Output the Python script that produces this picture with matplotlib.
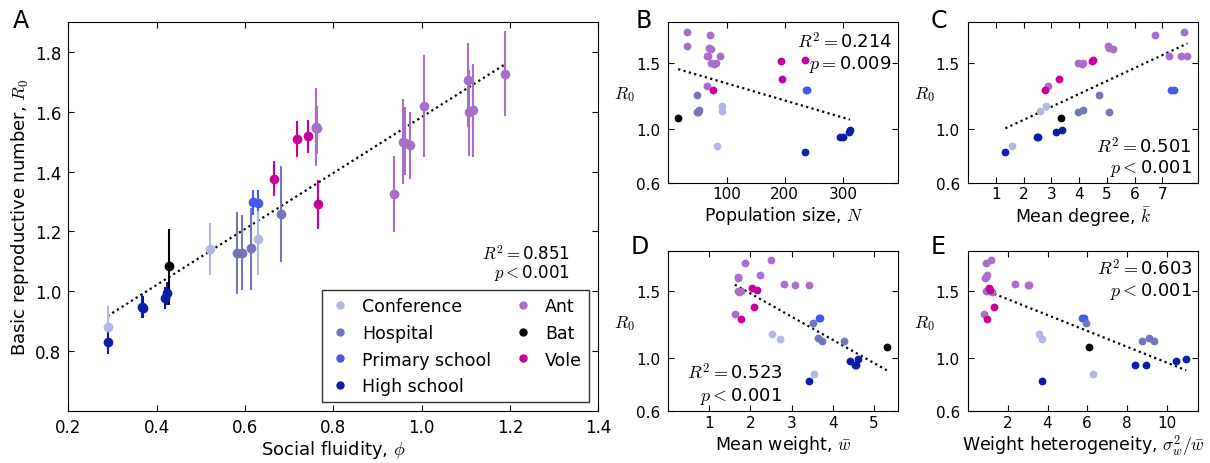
# Basic reproductive number vs network properties (panels A-E)

import matplotlib
matplotlib.use('Agg')
import matplotlib.pyplot as plt
import numpy as np
from matplotlib.lines import Line2D

plt.rcParams['font.family'] = 'DejaVu Sans'
plt.rcParams['mathtext.fontset'] = 'cm'
plt.rcParams['font.size'] = 12
plt.rcParams['xtick.direction'] = 'in'
plt.rcParams['ytick.direction'] = 'in'
plt.rcParams['xtick.top'] = True
plt.rcParams['ytick.right'] = True
plt.rcParams['xtick.major.size'] = 4
plt.rcParams['ytick.major.size'] = 4
plt.rcParams['xtick.major.pad'] = 5
plt.rcParams['ytick.major.pad'] = 5

group = ['Ant'] * 12 + ['Vole'] * 4 + ['Primary school'] * 2 + ['Hospital'] * 4 \
    + ['Conference'] * 3 + ['High school'] * 5 + ['Bat']

phi = [1.189, 1.106, 1.006, 1.116, 1.108, 0.760, 0.762, 0.763, 0.957, 0.963, 0.973, 0.937,
       0.743, 0.719, 0.666, 0.765,
       0.619, 0.630,
       0.682, 0.614, 0.583, 0.593,
       0.630, 0.521, 0.289,
       0.423, 0.419, 0.366, 0.370, 0.291,
       0.428]
r0 = [1.728, 1.707, 1.620, 1.605, 1.599, 1.548, 1.547, 1.545, 1.500, 1.497, 1.488, 1.324,
      1.518, 1.510, 1.377, 1.291,
      1.297, 1.295,
      1.260, 1.145, 1.128, 1.128,
      1.174, 1.140, 0.879,
      0.993, 0.978, 0.947, 0.945, 0.829,
      1.083]
r0_lo = [1.585, 1.550, 1.450, 1.448, 1.452, 1.420, 1.450, 1.460, 1.358, 1.388, 1.377, 1.198,
         1.461, 1.450, 1.319, 1.209,
         1.254, 1.250,
         1.098, 1.003, 0.992, 1.003,
         1.053, 1.053, 0.840,
         0.955, 0.940, 0.910, 0.910, 0.790,
         0.955]
r0_hi = [1.870, 1.832, 1.792, 1.759, 1.740, 1.680, 1.640, 1.620, 1.642, 1.615, 1.600, 1.452,
         1.572, 1.570, 1.435, 1.371,
         1.340, 1.340,
         1.420, 1.280, 1.265, 1.256,
         1.270, 1.229, 0.950,
         1.030, 1.015, 0.990, 0.985, 0.870,
         1.209]
pop_n = [33, 72, 32, 70, 74, 67, 89, 69, 74, 82, 78, 67,
         234, 194, 196, 77,
         237, 239,
         50, 52, 50, 51,
         93, 92, 84,
         312, 311, 295, 300, 234,
         17]
mean_k = [7.78, 6.73, 5.03, 5.09, 5.21, 7.25, 7.67, 7.91, 3.95, 4.14, 4.09, 2.87,
          4.50, 4.45, 3.26, 2.76,
          7.31, 7.43,
          4.72, 4.15, 3.95, 5.08,
          2.79, 2.59, 1.59,
          3.38, 3.18, 2.47, 2.50, 1.34,
          3.36]
mean_w = [2.50, 1.87, 2.23, 1.70, 1.69, 2.82, 3.08, 3.42, 1.70, 1.77, 1.72, 1.62,
          2.03, 2.17, 2.09, 1.78,
          3.66, 3.70,
          3.53, 3.65, 3.75, 4.28,
          2.53, 2.72, 3.55,
          4.63, 4.42, 4.54, 4.57, 3.43,
          5.33]
w_het = [1.15, 0.90, 0.94, 0.88, 0.82, 2.38, 3.00, 3.08, 1.02, 0.90, 1.19, 0.79,
         1.05, 1.12, 1.29, 0.95,
         5.74, 5.86,
         5.94, 9.12, 9.38, 8.75,
         3.55, 3.73, 6.31,
         10.99, 10.46, 8.43, 8.95, 3.73,
         6.09]

legend_order = ['Conference', 'Hospital', 'Primary school', 'High school', 'Ant', 'Bat', 'Vole']
colors = {'Conference': '#b3b7e6', 'Hospital': '#7377b9', 'Primary school': '#4858ef',
          'High school': '#0c1ca6', 'Ant': '#a76fca', 'Bat': 'black', 'Vole': '#c8009b'}

r0 = np.array(r0)
r0_lo = np.array(r0_lo)
r0_hi = np.array(r0_hi)


def trend(ax, x, y):
    x = np.asarray(x, dtype=float)
    p = np.polyfit(x, y, 1)
    xs = np.array([x.min(), x.max()])
    ax.plot(xs, np.polyval(p, xs), color='black', ls=(0, (1, 1.5)), lw=1.6, zorder=1)


fig = plt.figure(figsize=(12.1, 4.64), dpi=100)

# panel A
ax = fig.add_axes([0.0564, 0.1127, 0.438, 0.837])
for i in range(len(phi)):
    c = colors[group[i]]
    ax.errorbar(phi[i], r0[i], yerr=[[r0[i] - r0_lo[i]], [r0_hi[i] - r0[i]]],
                fmt='o', color=c, mec=c, ms=6, elinewidth=1.5, capsize=0, zorder=2)
trend(ax, phi, r0)
ax.set_xlim(0.2, 1.4)
ax.set_ylim(0.6, 1.9)
ax.set_xticks([0.2, 0.4, 0.6, 0.8, 1.0, 1.2, 1.4])
ax.set_yticks([0.8, 1.0, 1.2, 1.4, 1.6, 1.8])
ax.set_xlabel(r'Social fluidity, $\phi$', fontsize=13, labelpad=2)
ax.set_ylabel(r'Basic reproductive number, $R_0$', fontsize=13, labelpad=3)
ax.text(0.947, 0.38, r'$R^2=$0.851' + '\n' + r'$p<$0.001', transform=ax.transAxes,
        ha='right', va='center', multialignment='right', fontsize=12, linespacing=0.95)
handles = [Line2D([], [], ls='none', marker='o', ms=5, color=colors[g], mec=colors[g])
           for g in legend_order]
leg = ax.legend(handles, legend_order, loc='lower right', bbox_to_anchor=(0.983, 0.022),
                borderaxespad=0, ncol=2, numpoints=1, fancybox=False, fontsize=12.5,
                handlelength=1.2, handletextpad=0.7, columnspacing=1.2, labelspacing=0.5)
leg.get_frame().set_edgecolor('black')
leg.get_frame().set_linewidth(1.0)

# small panels
panels = [
    ([0.5523, 0.6034, 0.1901, 0.3463], pop_n, (0, 395), [100, 200, 300],
     r'Population size, $N$', [r'$R^2=$0.214', r'$p=$0.009'], (0.971, 0.885, 0.741)),
    ([0.8002, 0.6034, 0.1901, 0.3463], mean_k, (0, 8.3), [1, 2, 3, 4, 5, 6, 7],
     r'Mean degree, $\bar{k}$', [r'$R^2=$0.501', r'$p<$0.001'], (0.971, 0.232, 0.098)),
    ([0.5523, 0.1114, 0.1901, 0.3461], mean_w, (0, 5.6), [1, 2, 3, 4, 5],
     r'Mean weight, $\bar{w}$', [r'$R^2=$0.523', r'$p<$0.001'], (0.496, 0.243, 0.097)),
    ([0.8002, 0.1114, 0.1901, 0.3461], w_het, (0, 11.6), [2, 4, 6, 8, 10],
     r'Weight heterogeneity, $\sigma_w^2/\bar{w}$', [r'$R^2=$0.603', r'$p<$0.001'],
     (0.974, 0.89, 0.75)),
]

for rect, xv, xlim, xticks, xlabel, stats, pos in panels:
    ax = fig.add_axes(rect)
    for i in range(len(xv)):
        c = colors[group[i]]
        ax.plot(xv[i], r0[i], 'o', color=c, mec=c, ms=4.6, zorder=2)
    trend(ax, xv, r0)
    ax.set_xlim(*xlim)
    ax.set_ylim(0.6, 1.8)
    ax.set_xticks(xticks)
    ax.set_yticks([0.6, 1.0, 1.5])
    ax.tick_params(axis='both', labelsize=11)
    ax.tick_params(axis='x', pad=2.5)
    ax.tick_params(axis='y', pad=6)
    ax.set_xlabel(xlabel, fontsize=12.5, labelpad=2)
    ax.set_ylabel(r'$R_0$', rotation=0, ha='right', va='center', fontsize=12.5)
    ax.yaxis.set_label_coords(-0.145, 0.554)
    ax.text(pos[0], pos[1], stats[0], transform=ax.transAxes, ha='right', va='center', fontsize=13)
    ax.text(pos[0], pos[2], stats[1], transform=ax.transAxes, ha='right', va='center', fontsize=13)

# panel letters
for lab, x, y in [('A', 21, 21.5), ('B', 644, 21.5), ('C', 939, 21.5),
                  ('D', 640, 247.5), ('E', 938, 247.5)]:
    fig.text(x / 1210, 1 - y / 464, lab, ha='center', va='center', fontsize=17)

savefile = 'out.png'
print('Saving figure to: ', savefile)
fig.savefig(savefile, dpi=100)
